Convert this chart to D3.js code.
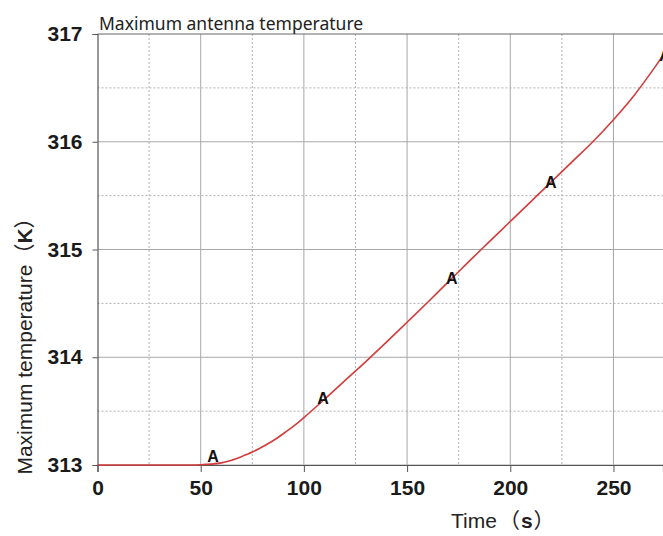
<!DOCTYPE html>
<html>
<head>
<meta charset="utf-8">
<script src="https://cdn.jsdelivr.net/npm/d3@7"></script>
<style>
  body { margin: 0; background: #fff; }
  svg { display: block; }
  .tick text { font-family: "Liberation Sans", Arial, sans-serif; font-weight: bold; font-size: 21px; fill: #1a1a1a; }
</style>
</head>
<body>
<div id="chart"></div>
<script>
// curve: time (s) vs max temperature (K)
var timeS = [0, 10, 20, 30, 40, 45, 50, 55, 60, 65, 70, 75, 80, 85, 90, 95, 100, 110, 120, 130, 140, 150,
             160, 170, 180, 190, 200, 210, 220, 230, 240, 250, 260, 270, 274];
var tempK = [313, 313, 313, 313, 313, 313, 313.002, 313.008, 313.02, 313.045, 313.08, 313.12, 313.17,
             313.225, 313.29, 313.36, 313.44, 313.61, 313.785, 313.96, 314.14, 314.325, 314.51, 314.7,
             314.89, 315.075, 315.26, 315.445, 315.63, 315.815, 316.0, 316.205, 316.43, 316.69, 316.8];

// "A" markers along the curve
var markT = [56, 109.3, 171.6, 219.6, 275];
var markV = [313.08, 313.62, 314.73, 315.62, 316.8];

var xTicks = [0, 50, 100, 150, 200, 250];
var xMinor = [25, 75, 125, 175, 225];
var yTicks = [313, 314, 315, 316, 317];
var yMinor = [313.5, 314.5, 315.5, 316.5];

(function() {
var W = 663, H = 536;
var pL = 97.5, pR = 663, pT = 34, pB = 465;

var svg = d3.select("#chart").append("svg")
  .attr("width", W)
  .attr("height", H);

var x = d3.scaleLinear().domain([0, 274]).range([pL, pR]);
var y = d3.scaleLinear().domain([313, 317]).range([pB, pT]);

//////////////////////////////////
// grid
var grid = svg.append("g");
grid.selectAll("line.minx")
  .data(xMinor)
.enter()
  .append("line")
  .attr("x1", function(d) { return x(d); })
  .attr("x2", function(d) { return x(d); })
  .attr("y1", pT).attr("y2", pB)
  .attr("stroke", "#b0b0b0")
  .attr("stroke-dasharray", "2,2");
grid.selectAll("line.miny")
  .data(yMinor)
.enter()
  .append("line")
  .attr("x1", pL).attr("x2", pR)
  .attr("y1", function(d) { return y(d); })
  .attr("y2", function(d) { return y(d); })
  .attr("stroke", "#b0b0b0")
  .attr("stroke-dasharray", "2,2");
grid.selectAll("line.majx")
  .data(xTicks.slice(1))
.enter()
  .append("line")
  .attr("x1", function(d) { return x(d); })
  .attr("x2", function(d) { return x(d); })
  .attr("y1", pT).attr("y2", pB)
  .attr("stroke", "#a8a8a8");
grid.selectAll("line.majy")
  .data(yTicks.slice(0, -1))
.enter()
  .append("line")
  .attr("x1", pL).attr("x2", pR)
  .attr("y1", function(d) { return y(d); })
  .attr("y2", function(d) { return y(d); })
  .attr("stroke", "#a8a8a8");

// top frame
svg.append("line")
  .attr("x1", pL).attr("x2", pR)
  .attr("y1", pT).attr("y2", pT)
  .attr("stroke", "#666");

//////////////////////////////////
// axes
var xAxis = svg.append("g")
  .attr("transform", "translate(0," + pB + ")")
  .call(d3.axisBottom(x).tickValues(xTicks).tickSize(7).tickPadding(8).tickFormat(d3.format("d")));
var yAxis = svg.append("g")
  .attr("transform", "translate(" + pL + ",0)")
  .call(d3.axisLeft(y).tickValues(yTicks).tickSize(5).tickPadding(10).tickFormat(d3.format("d")));
[xAxis, yAxis].forEach(function(a) {
  a.select(".domain").attr("stroke", "#555").attr("stroke-width", 1.2);
  a.selectAll(".tick line").attr("stroke", "#555");
});

//////////////////////////////////
// curve
var pts = timeS.map(function(t, i) { return [t, tempK[i]]; });
svg.append("path")
  .datum(pts)
  .attr("fill", "none")
  .attr("stroke", "#d43c3c")
  .attr("stroke-width", 1.6)
  .attr("d", d3.line()
    .x(function(d) { return x(d[0]); })
    .y(function(d) { return y(d[1]); })
    .curve(d3.curveMonotoneX));

svg.selectAll("text.mark")
  .data(markT)
.enter()
  .append("text")
  .attr("class", "mark")
  .attr("x", function(t) { return x(t); })
  .attr("y", function(t, i) { return y(markV[i]); })
  .attr("text-anchor", "middle")
  .attr("dominant-baseline", "central")
  .attr("font-family", "Liberation Sans, Arial, sans-serif")
  .attr("font-weight", "bold")
  .attr("font-size", 16)
  .attr("fill", "#111")
  .text("A");

//////////////////////////////////
// titles
svg.append("text")
  .attr("x", 99)
  .attr("y", 30)
  .attr("font-family", "Noto Sans, sans-serif")
  .attr("font-size", 17.5)
  .attr("fill", "#222")
  .text("Maximum antenna temperature");

var xt = svg.append("text")
  .attr("x", 451)
  .attr("y", 528)
  .attr("font-family", "Liberation Sans, Arial, sans-serif")
  .attr("font-size", 21)
  .attr("fill", "#222");
xt.append("tspan").text("Time");
xt.append("tspan").attr("dx", 2).attr("font-family", "Noto Sans CJK SC").text("（");
xt.append("tspan").attr("dx", 1).attr("font-weight", "bold").text("s");
xt.append("tspan").attr("dx", 1).attr("font-family", "Noto Sans CJK SC").text("）");

var yt = svg.append("text")
  .attr("transform", "translate(32,341) rotate(-90)")
  .attr("text-anchor", "middle")
  .attr("font-family", "Liberation Sans, Arial, sans-serif")
  .attr("font-size", 21)
  .attr("fill", "#222");
yt.append("tspan").text("Maximum temperature");
yt.append("tspan").attr("font-family", "Noto Sans CJK SC").text("（");
yt.append("tspan").attr("font-weight", "bold").text("K");
yt.append("tspan").attr("font-family", "Noto Sans CJK SC").text("）");
})();
</script>
</body>
</html>
